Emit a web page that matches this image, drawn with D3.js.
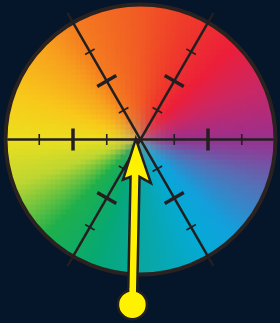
<!DOCTYPE html>
<html>
<head>
<meta charset="utf-8">
<script src="https://cdn.jsdelivr.net/npm/d3@7"></script>
<style>
  html, body { margin: 0; padding: 0; background: #05152a; }
  svg { display: block; }
</style>
</head>
<body>
<svg id="chart"></svg>
<script>
// hue stops round the wheel (degrees, counter-clockwise from the right)
const hueAngles = [0, 25, 45, 70, 90, 120, 135, 160, 180, 200, 225, 250, 270, 300, 315, 340, 360];
const hueColors = ["#99308f", "#cc2762", "#ec1e3a", "#ef3c2a", "#f15a24", "#f47c20", "#f7a01e", "#f8c81a",
                   "#ecdf1e", "#bcd632", "#1fb04c", "#06a874", "#09a6a0", "#05aad6", "#12a0dc", "#5a6cb4", "#99308f"];
// the three lines through the centre and their tick marks (radial units)
const axisAngles = [0, 60, 120];
const tickValues = [1, 2, 3];
const majorTicks = [2];
// pointer: tail and tip in polar units
const pointerTail = { r: 4.9, angle: 267.2 };
const pointerTip = { r: 0.14, angle: 172 };

const width = 280, height = 323;
const cx = 140.5, cy = 139.5;

const svg = d3.select("#chart").attr("width", width).attr("height", height);

const rScale = d3.scaleLinear().domain([0, 4]).range([0, 135]);
const hue = d3.scaleLinear().domain(hueAngles).range(hueColors).interpolate(d3.interpolateRgb);
const R = rScale(4);

function polar(r, deg) {
    let a = deg * Math.PI / 180;
    return [cx + rScale(r) * Math.cos(a), cy - rScale(r) * Math.sin(a)];
}

// colour wheel, drawn as small cells
svg.append("clipPath").attr("id", "wheel")
    .append("circle").attr("cx", cx).attr("cy", cy).attr("r", R);

let cell = 5;
let cells = [];
for (let y = cy - R - cell; y < cy + R + cell; y += cell) {
    for (let x = cx - R - cell; x < cx + R + cell; x += cell) {
        let dx = x + cell / 2 - cx, dy = cy - (y + cell / 2);
        let dist = Math.sqrt(dx * dx + dy * dy);
        if (dist > R + cell) continue;
        let ang = Math.atan2(dy, dx) * 180 / Math.PI;
        if (ang < 0) ang += 360;
        cells.push({ x: x, y: y, ang: ang, dist: dist });
    }
}
const centreGray = "#a88c8a";
svg.append("g").attr("clip-path", "url(#wheel)")
    .selectAll("rect")
    .data(cells)
    .join("rect")
    .attr("x", d => d.x)
    .attr("y", d => d.y)
    .attr("width", cell + 0.5)
    .attr("height", cell + 0.5)
    .attr("fill", d => {
        let w = Math.pow(Math.max(0, 1 - d.dist / (R * 0.32)), 2) * 0.7;
        return d3.interpolateRgb(hue(d.ang), centreGray)(w);
    });

svg.append("circle")
    .attr("cx", cx).attr("cy", cy).attr("r", R)
    .attr("fill", "none")
    .attr("stroke", "#2a2220")
    .attr("stroke-width", 4);

// lines through the centre
const lineColor = "#231f20";
const lines = svg.append("g");
axisAngles.forEach(a => {
    let ext = a === 0 ? 3.95 : 4.33;
    let p1 = polar(ext, a), p2 = polar(ext, a + 180);
    lines.append("line")
        .attr("x1", p1[0]).attr("y1", p1[1])
        .attr("x2", p2[0]).attr("y2", p2[1])
        .attr("stroke", lineColor)
        .attr("stroke-width", 2.5);
    [a, a + 180].forEach(dir => {
        tickValues.forEach(t => {
            let major = majorTicks.includes(t);
            let half = major ? 11 : 5.5;
            let c = polar(t, dir);
            let rad = (dir + 90) * Math.PI / 180;
            let ox = half * Math.cos(rad), oy = -half * Math.sin(rad);
            lines.append("line")
                .attr("x1", c[0] - ox).attr("y1", c[1] - oy)
                .attr("x2", c[0] + ox).attr("y2", c[1] + oy)
                .attr("stroke", lineColor)
                .attr("stroke-width", major ? 3.5 : 1.6);
        });
    });
});

// pointer arrow
const tail = polar(pointerTail.r, pointerTail.angle);
const tip = polar(pointerTip.r, pointerTip.angle);
let vx = tip[0] - tail[0], vy = tip[1] - tail[1];
let len = Math.sqrt(vx * vx + vy * vy);
let ux = vx / len, uy = vy / len;   // along
let nx = -uy, ny = ux;              // across
function at(along, across) {
    return [tail[0] + ux * along + nx * across, tail[1] + uy * along + ny * across];
}
let headLen = 40, shaftHalf = 4.5;
let pts = [
    at(len, 0),
    at(len - headLen - 4, 16),
    at(len - headLen + 2, shaftHalf),
    at(0, shaftHalf),
    at(0, -shaftHalf),
    at(len - headLen + 2, -shaftHalf),
    at(len - headLen - 1, -12)
];
svg.append("path")
    .attr("d", d3.line()(pts) + "Z")
    .attr("fill", "#fff200")
    .attr("stroke", lineColor)
    .attr("stroke-width", 2.5)
    .attr("stroke-linejoin", "miter");
svg.append("circle")
    .attr("cx", tail[0]).attr("cy", tail[1]).attr("r", 14.5)
    .attr("fill", "#fff200")
    .attr("stroke", lineColor)
    .attr("stroke-width", 2.5);
// cover the shaft outline where it meets the ball
svg.append("path")
    .attr("d", d3.line()([at(0, shaftHalf - 1.2), at(16, shaftHalf - 1.2), at(16, -shaftHalf + 1.2), at(0, -shaftHalf + 1.2)]) + "Z")
    .attr("fill", "#fff200");
</script>
</body>
</html>
